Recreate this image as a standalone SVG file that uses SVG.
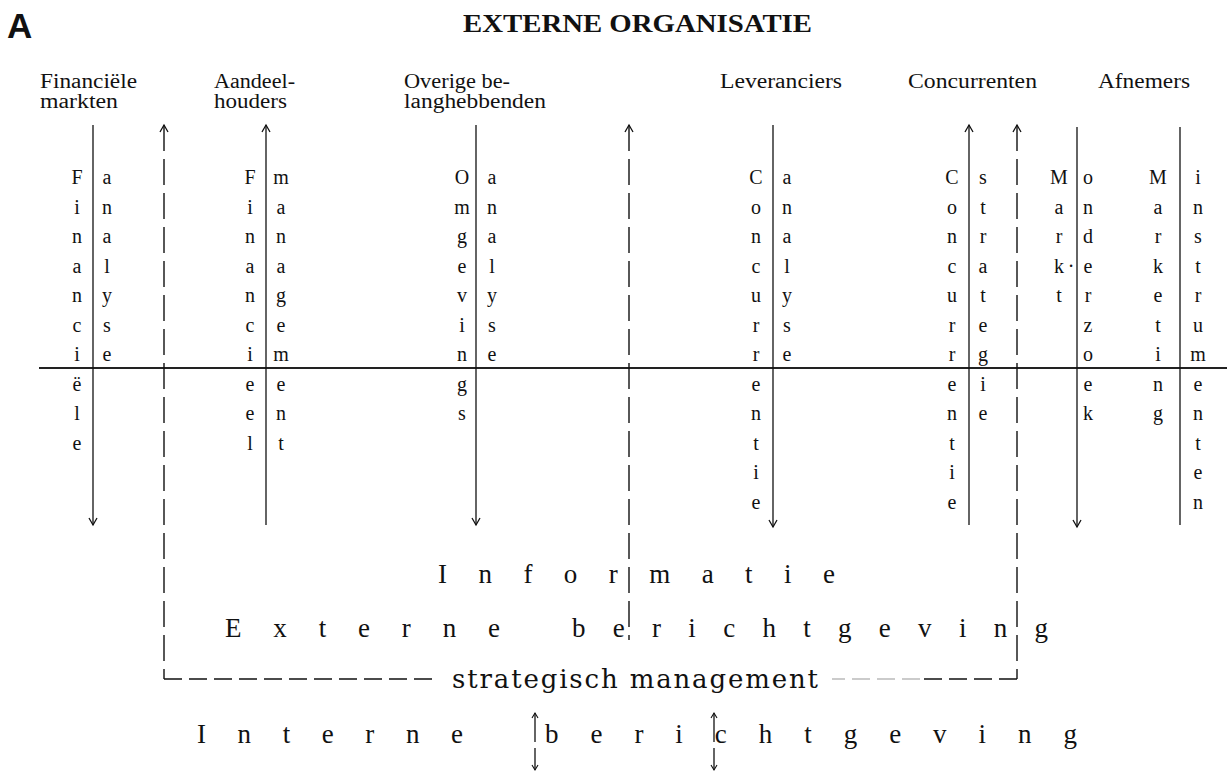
<svg xmlns="http://www.w3.org/2000/svg" width="1227" height="772" viewBox="0 0 1227 772">
<style>
.h{font-family:"Liberation Serif","Times New Roman",serif;font-size:20px;fill:#111}
.v{font-family:"Liberation Serif","Times New Roman",serif;font-size:20px;fill:#111;text-anchor:middle}
.big{font-family:"Liberation Serif","Times New Roman",serif;font-size:27px;fill:#111}
.sm{font-family:"DejaVu Serif","Liberation Serif",serif;font-size:26px;fill:#111}
.ln{fill:none;stroke:#111;stroke-width:1.3}
.ds{fill:none;stroke:#111;stroke-width:1.4;stroke-dasharray:26 8}
.dh{fill:none;stroke:#111;stroke-width:1.4;stroke-dasharray:18 7}
</style>
<defs>
<marker id="ah" viewBox="-9 -5 11 10" refX="0" refY="0" markerWidth="11" markerHeight="10" markerUnits="userSpaceOnUse" orient="auto">
<path d="M-7,-4 L0,0 L-7,4" fill="none" stroke="#111" stroke-width="1.3"/>
</marker>
<marker id="ahr" viewBox="-9 -5 11 10" refX="0" refY="0" markerWidth="11" markerHeight="10" markerUnits="userSpaceOnUse" orient="auto-start-reverse">
<path d="M-7,-4 L0,0 L-7,4" fill="none" stroke="#111" stroke-width="1.3"/>
</marker>
<marker id="ahs" viewBox="-7 -4 9 8" refX="0" refY="0" markerWidth="9" markerHeight="8" markerUnits="userSpaceOnUse" orient="auto">
<path d="M-5,-3 L0,0 L-5,3" fill="none" stroke="#111" stroke-width="1.1"/>
</marker>
</defs>
<rect width="1227" height="772" fill="#fff"/>

<g id="title">
<text x="7" y="38" style="font-family:'Liberation Sans',Arial,sans-serif;font-weight:bold;font-size:35px;fill:#111">A</text>
<text x="463" y="32" textLength="349" lengthAdjust="spacingAndGlyphs" style="font-family:'Liberation Serif','Times New Roman',serif;font-weight:bold;font-size:26px;fill:#111">EXTERNE ORGANISATIE</text>
</g>

<g id="financiele-markten">
<text class="h" x="40" y="88" textLength="97" lengthAdjust="spacingAndGlyphs">Financiële</text>
<text class="h" x="40" y="108" textLength="78" lengthAdjust="spacingAndGlyphs">markten</text>
<text class="v"><tspan x="77" y="184">F</tspan><tspan x="77" y="213.5">i</tspan><tspan x="77" y="243">n</tspan><tspan x="77" y="272.5">a</tspan><tspan x="77" y="302">n</tspan><tspan x="77" y="331.5">c</tspan><tspan x="77" y="361">i</tspan><tspan x="77" y="390.5">ë</tspan><tspan x="77" y="420">l</tspan><tspan x="77" y="449.5">e</tspan></text>
<text class="v"><tspan x="107" y="184">a</tspan><tspan x="107" y="213.5">n</tspan><tspan x="107" y="243">a</tspan><tspan x="107" y="272.5">l</tspan><tspan x="107" y="302">y</tspan><tspan x="107" y="331.5">s</tspan><tspan x="107" y="361">e</tspan></text>
</g>

<g id="aandeelhouders">
<text class="h" x="214" y="88" textLength="81" lengthAdjust="spacingAndGlyphs">Aandeel-</text>
<text class="h" x="214" y="108" textLength="73" lengthAdjust="spacingAndGlyphs">houders</text>
<text class="v"><tspan x="250" y="184">F</tspan><tspan x="250" y="213.5">i</tspan><tspan x="250" y="243">n</tspan><tspan x="250" y="272.5">a</tspan><tspan x="250" y="302">n</tspan><tspan x="250" y="331.5">c</tspan><tspan x="250" y="361">i</tspan><tspan x="250" y="390.5">e</tspan><tspan x="250" y="420">e</tspan><tspan x="250" y="449.5">l</tspan></text>
<text class="v"><tspan x="281" y="184">m</tspan><tspan x="281" y="213.5">a</tspan><tspan x="281" y="243">n</tspan><tspan x="281" y="272.5">a</tspan><tspan x="281" y="302">g</tspan><tspan x="281" y="331.5">e</tspan><tspan x="281" y="361">m</tspan><tspan x="281" y="390.5">e</tspan><tspan x="281" y="420">n</tspan><tspan x="281" y="449.5">t</tspan></text>
</g>

<g id="overige-belanghebbenden">
<text class="h" x="404" y="88" textLength="106" lengthAdjust="spacingAndGlyphs">Overige be-</text>
<text class="h" x="404" y="108" textLength="142" lengthAdjust="spacingAndGlyphs">langhebbenden</text>
<text class="v"><tspan x="462" y="184">O</tspan><tspan x="462" y="213.5">m</tspan><tspan x="462" y="243">g</tspan><tspan x="462" y="272.5">e</tspan><tspan x="462" y="302">v</tspan><tspan x="462" y="331.5">i</tspan><tspan x="462" y="361">n</tspan><tspan x="462" y="390.5">g</tspan><tspan x="462" y="420">s</tspan></text>
<text class="v"><tspan x="492" y="184">a</tspan><tspan x="492" y="213.5">n</tspan><tspan x="492" y="243">a</tspan><tspan x="492" y="272.5">l</tspan><tspan x="492" y="302">y</tspan><tspan x="492" y="331.5">s</tspan><tspan x="492" y="361">e</tspan></text>
</g>

<g id="leveranciers">
<text class="h" x="720" y="88" textLength="122" lengthAdjust="spacingAndGlyphs">Leveranciers</text>
<text class="v"><tspan x="756" y="184">C</tspan><tspan x="756" y="213.5">o</tspan><tspan x="756" y="243">n</tspan><tspan x="756" y="272.5">c</tspan><tspan x="756" y="302">u</tspan><tspan x="756" y="331.5">r</tspan><tspan x="756" y="361">r</tspan><tspan x="756" y="390.5">e</tspan><tspan x="756" y="420">n</tspan><tspan x="756" y="449.5">t</tspan><tspan x="756" y="479">i</tspan><tspan x="756" y="508.5">e</tspan></text>
<text class="v"><tspan x="787" y="184">a</tspan><tspan x="787" y="213.5">n</tspan><tspan x="787" y="243">a</tspan><tspan x="787" y="272.5">l</tspan><tspan x="787" y="302">y</tspan><tspan x="787" y="331.5">s</tspan><tspan x="787" y="361">e</tspan></text>
</g>

<g id="concurrenten">
<text class="h" x="908" y="88" textLength="129" lengthAdjust="spacingAndGlyphs">Concurrenten</text>
<text class="v"><tspan x="952" y="184">C</tspan><tspan x="952" y="213.5">o</tspan><tspan x="952" y="243">n</tspan><tspan x="952" y="272.5">c</tspan><tspan x="952" y="302">u</tspan><tspan x="952" y="331.5">r</tspan><tspan x="952" y="361">r</tspan><tspan x="952" y="390.5">e</tspan><tspan x="952" y="420">n</tspan><tspan x="952" y="449.5">t</tspan><tspan x="952" y="479">i</tspan><tspan x="952" y="508.5">e</tspan></text>
<text class="v"><tspan x="983" y="184">s</tspan><tspan x="983" y="213.5">t</tspan><tspan x="983" y="243">r</tspan><tspan x="983" y="272.5">a</tspan><tspan x="983" y="302">t</tspan><tspan x="983" y="331.5">e</tspan><tspan x="983" y="361">g</tspan><tspan x="983" y="390.5">i</tspan><tspan x="983" y="420">e</tspan></text>
</g>

<g id="afnemers">
<text class="h" x="1098" y="88" textLength="92" lengthAdjust="spacingAndGlyphs">Afnemers</text>
<text class="v"><tspan x="1059" y="184">M</tspan><tspan x="1059" y="213.5">a</tspan><tspan x="1059" y="243">r</tspan><tspan x="1059" y="272.5">k</tspan><tspan x="1071" y="272.5">·</tspan><tspan x="1059" y="302">t</tspan></text>
<text class="v"><tspan x="1088" y="184">o</tspan><tspan x="1088" y="213.5">n</tspan><tspan x="1088" y="243">d</tspan><tspan x="1088" y="272.5">e</tspan><tspan x="1088" y="302">r</tspan><tspan x="1088" y="331.5">z</tspan><tspan x="1088" y="361">o</tspan><tspan x="1088" y="390.5">e</tspan><tspan x="1088" y="420">k</tspan></text>
<text class="v"><tspan x="1158" y="184">M</tspan><tspan x="1158" y="213.5">a</tspan><tspan x="1158" y="243">r</tspan><tspan x="1158" y="272.5">k</tspan><tspan x="1158" y="302">e</tspan><tspan x="1158" y="331.5">t</tspan><tspan x="1158" y="361">i</tspan><tspan x="1158" y="390.5">n</tspan><tspan x="1158" y="420">g</tspan></text>
<text class="v"><tspan x="1198" y="184">i</tspan><tspan x="1198" y="213.5">n</tspan><tspan x="1198" y="243">s</tspan><tspan x="1198" y="272.5">t</tspan><tspan x="1198" y="302">r</tspan><tspan x="1198" y="331.5">u</tspan><tspan x="1198" y="361">m</tspan><tspan x="1198" y="390.5">e</tspan><tspan x="1198" y="420">n</tspan><tspan x="1198" y="449.5">t</tspan><tspan x="1198" y="479">e</tspan><tspan x="1198" y="508.5">n</tspan></text>
</g>

<g id="informatie">
<text class="big" x="438" y="583" textLength="397" lengthAdjust="spacing">Informatie</text>
</g>
<g id="externe-berichtgeving">
<text class="big" x="225" y="637" textLength="275" lengthAdjust="spacing">Externe</text>
<text class="big" x="572" y="637" textLength="476" lengthAdjust="spacing">berichtgeving</text>
</g>
<g id="strategisch-management">
<text class="sm" x="452" y="688" textLength="366" lengthAdjust="spacing">strategisch management</text>
</g>
<g id="interne-berichtgeving">
<text class="big" x="197" y="743" textLength="266" lengthAdjust="spacing">Interne</text>
<text class="big" x="545" y="743" textLength="532" lengthAdjust="spacing">berichtgeving</text>
</g>

<g id="connectors">
<path d="M39,368 H1227" fill="none" stroke="#222" stroke-width="2"/>
<path class="ln" d="M93,125 V525" marker-end="url(#ah)"/>
<path class="ln" d="M266,525 V125" marker-end="url(#ah)"/>
<path class="ln" d="M476,125 V525" marker-end="url(#ah)"/>
<path class="ln" d="M773,125 V527" marker-end="url(#ah)"/>
<path class="ln" d="M969,525 V125" marker-end="url(#ah)"/>
<path class="ln" d="M1077,127 V527" marker-end="url(#ah)"/>
<path class="ln" d="M1180,127 V525"/>
<path class="ds" d="M164,125 V679" marker-start="url(#ahr)"/>
<path class="ds" d="M629,125 V640" marker-start="url(#ahr)"/>
<path class="ds" d="M1017,125 V679" marker-start="url(#ahr)"/>
<path class="dh" d="M164,679 H432"/>
<path class="dh" d="M1017,679 H923"/>
<path class="dh" d="M920,679 H832" style="stroke:#bbb"/>
<path class="ln" d="M535,742 V713" marker-end="url(#ahs)"/>
<path class="ln" d="M535,748 V770" marker-end="url(#ahs)"/>
<path class="ln" d="M714,742 V713" marker-end="url(#ahs)"/>
<path class="ln" d="M714,748 V770" marker-end="url(#ahs)"/>
</g>
</svg>
